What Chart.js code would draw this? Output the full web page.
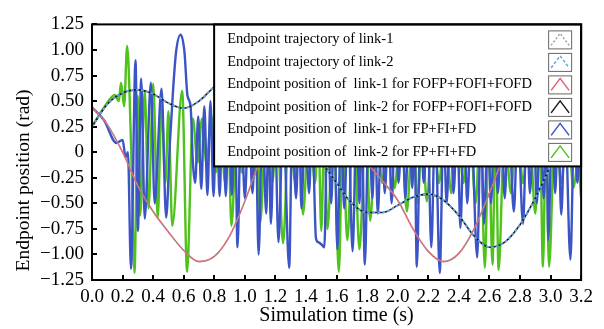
<!DOCTYPE html>
<html>
<head>
<meta charset="utf-8">
<script src="https://cdn.jsdelivr.net/npm/chart.js@4.4.1/dist/chart.umd.min.js"></script>
<style>
  html, body { margin: 0; padding: 0; background: #fff; }
  #wrap { width: 604px; height: 329px; }
</style>
</head>
<body>
<div id="wrap"><canvas id="response-chart" width="604" height="329"></canvas></div>
<script>
// sample times (s) for the reference trajectories
const trajTime = [0, 0.1, 0.2, 0.3, 0.4, 0.5, 0.6, 0.7, 0.8, 0.9, 1.0, 1.1, 1.2, 1.3, 1.4, 1.5, 1.6,
                  1.7, 1.8, 1.9, 2.0, 2.1, 2.2, 2.3, 2.4, 2.5, 2.6, 2.7, 2.8, 2.9, 3.0, 3.1, 3.2];

// endpoint trajectories (rad)
const link1Trajectory = [0.44, 0.27, 0.0, -0.33, -0.58, -0.78, -0.96, -1.07, -1.02, -0.82, -0.48, -0.08, 0.2,
                         0.38, 0.45, 0.43, 0.32, 0.15, -0.1, -0.28, -0.47, -0.75, -0.97, -1.07, -0.99, -0.75,
                         -0.4, -0.02, 0.25, 0.4, 0.45, 0.42, 0.33];
const link2Trajectory = [0.25, 0.47, 0.58, 0.61, 0.57, 0.48, 0.43, 0.5, 0.64, 0.75, 0.8, 0.78, 0.65, 0.45,
                         0.2, -0.08, -0.3, -0.5, -0.59, -0.59, -0.52, -0.44, -0.41, -0.47, -0.62, -0.82,
                         -0.93, -0.88, -0.71, -0.45, -0.13, 0.2, 0.45];

// FOFP+FOFI+FOFD response follows the trajectories
const link1Fofpid = link1Trajectory.slice();
const link2Fofpid = link2Trajectory.slice();

// FP+FI+FD response, [time, position]
const link1Fpid = [
  [0, 0.44], [0.08, 0.31], [0.16, 0.09], [0.2, 0.12], [0.22, -0.05], [0.235, 0.0], [0.255, -1.14],
  [0.285, 0.9], [0.3, -0.77], [0.322, 0.72], [0.345, -0.65], [0.385, 0.68], [0.41, -0.5], [0.455, 0.62],
  [0.485, -0.64], [0.51, 0.1], [0.53, 0.6], [0.55, 0.98], [0.58, 1.15], [0.605, 0.98], [0.625, 0.55],
  [0.645, 0.45], [0.66, -0.1], [0.675, -0.3], [0.695, 0.35], [0.715, -0.36], [0.735, 0.45], [0.755, -0.42],
  [0.775, 0.5], [0.795, -0.43], [0.815, 0.45], [0.835, -0.43], [0.855, 0.5], [0.875, -0.43], [0.895, 0.45],
  [0.915, -0.42], [0.935, 0.4], [0.952, -0.93], [0.975, 0.4], [1.0, -0.45], [1.025, 0.35], [1.05, -0.4],
  [1.07, 0.3], [1.09, -1.0], [1.115, 0.35], [1.14, -0.6], [1.155, 0.3], [1.17, -0.7], [1.195, 0.4],
  [1.22, -0.88], [1.25, 0.35], [1.29, -1.13], [1.31, 0.3], [1.335, -0.45], [1.355, 0.3], [1.37, -0.55],
  [1.395, 0.35], [1.42, -0.4], [1.44, 0.3], [1.465, -0.84], [1.48, -0.88], [1.5, -0.9], [1.52, -0.93],
  [1.54, 0.3], [1.565, -0.5], [1.585, 0.35], [1.605, -0.95], [1.63, 0.3], [1.65, -0.55], [1.675, 0.35],
  [1.705, -0.97], [1.73, 0.3], [1.75, -0.5], [1.765, 0.3], [1.785, -1.1], [1.81, 0.35], [1.835, -0.45],
  [1.85, 0.3], [1.87, -0.6], [1.895, 0.35], [1.915, -0.4], [1.94, 0.3], [1.96, -0.5], [1.985, 0.35],
  [2.005, -0.3], [2.03, 0.3], [2.05, -0.45], [2.075, 0.35], [2.095, -0.35], [2.11, 0.2], [2.125, -1.12],
  [2.15, 0.35], [2.17, -0.3], [2.195, 0.3], [2.22, -0.93], [2.245, 0.35], [2.275, -1.18], [2.3, 0.3],
  [2.32, -0.5], [2.345, 0.35], [2.365, -0.4], [2.39, 0.3], [2.41, -0.74], [2.435, 0.35], [2.455, -0.5],
  [2.48, 0.3], [2.52, -1.03], [2.545, 0.35], [2.565, -0.7], [2.59, 0.3], [2.61, -0.5], [2.635, 0.35],
  [2.655, -0.4], [2.68, 0.3], [2.7, -0.45], [2.725, 0.35], [2.76, -0.58], [2.785, 0.3], [2.82, -0.7],
  [2.845, 0.35], [2.865, -0.4], [2.89, 0.3], [2.91, -0.5], [2.935, 0.35], [2.955, -0.45], [2.975, 0.2],
  [2.985, -0.86], [3.01, 0.35], [3.03, -0.4], [3.05, 0.3], [3.07, -0.61], [3.095, 0.35], [3.13, -1.05],
  [3.155, 0.3], [3.175, -0.3], [3.2, 0.3]
];
const link2Fpid = [
  [0, 0.25], [0.08, 0.44], [0.15, 0.56], [0.175, 0.5], [0.19, 0.68], [0.21, 0.45], [0.23, 1.04],
  [0.255, 0.1], [0.278, -1.18], [0.3, 0.55], [0.315, -0.62], [0.345, 0.6], [0.37, -0.55], [0.4, 0.67],
  [0.43, -0.64], [0.455, 0.45], [0.48, -0.3], [0.5, 0.4], [0.525, -0.72], [0.59, 0.6], [0.622, -1.17],
  [0.66, 0.33], [0.69, -0.1], [0.72, 0.33], [0.75, -0.12], [0.78, 0.36], [0.81, -0.2], [0.84, 0.4],
  [0.87, -0.3], [0.89, 0.3], [0.912, -0.72], [0.95, 0.3], [0.98, -0.2], [1.02, 0.3], [1.06, -0.25],
  [1.08, 0.3], [1.1, -0.69], [1.14, 0.3], [1.18, -0.3], [1.21, 0.3], [1.25, -0.89], [1.29, 0.3],
  [1.33, -0.3], [1.355, 0.3], [1.38, -0.61], [1.42, 0.3], [1.46, -0.3], [1.48, 0.3], [1.5, -0.77],
  [1.52, 0.2], [1.54, -0.75], [1.58, 0.3], [1.615, -1.17], [1.64, 0.2], [1.67, -0.86], [1.71, 0.3],
  [1.75, -0.95], [1.79, 0.3], [1.82, -0.67], [1.86, 0.3], [1.9, -0.3], [1.94, 0.3], [1.98, -0.35],
  [2.02, 0.3], [2.06, -0.58], [2.1, 0.3], [2.13, -0.5], [2.16, 0.2], [2.19, -0.48], [2.23, 0.3],
  [2.27, -0.3], [2.31, 0.3], [2.35, -0.4], [2.39, 0.3], [2.43, -0.3], [2.47, 0.3], [2.51, -0.5],
  [2.54, 0.3], [2.57, -1.13], [2.595, 0.2], [2.62, -1.1], [2.64, 0.3], [2.66, -1.15], [2.7, 0.3],
  [2.74, -0.4], [2.78, 0.3], [2.82, -0.3], [2.86, 0.3], [2.9, -0.6], [2.93, 0.3], [2.95, -1.12],
  [2.97, 0.2], [2.99, -1.12], [3.03, 0.3], [3.07, -0.3], [3.11, 0.3], [3.15, -0.35], [3.18, -0.1],
  [3.2, -0.45]
];

const seriesLabels = [
  'Endpoint trajectory of link-1',
  'Endpoint trajectory of link-2',
  'Endpoint position of  link-1 for FOFP+FOFI+FOFD',
  'Endpoint position of  link-2 for FOFP+FOFI+FOFD',
  'Endpoint position of  link-1 for FP+FI+FD',
  'Endpoint position of  link-2 for FP+FI+FD'
];
const yAxisLabel = 'Endpoint position (rad)';

const serif = '"Liberation Serif", "Times New Roman", serif';

function timed(values) {
  return values.map((v, i) => ({ x: trajTime[i], y: v }));
}
function pairs(list) {
  return list.map(p => ({ x: p[0], y: p[1] }));
}

// boxed legend in the upper right corner of the plot
const legendBox = {
  id: 'legendBox',
  afterDatasetsDraw(chart) {
    const ctx = chart.ctx;
    const area = chart.chartArea;
    const w = 367, h = 142;
    const x0 = area.right - w, y0 = area.top;
    ctx.save();
    ctx.fillStyle = '#fff';
    ctx.fillRect(x0, y0, w, h);
    ctx.font = '14.5px ' + serif;
    ctx.textBaseline = 'middle';
    chart.data.datasets.forEach((ds, i) => {
      const cy = y0 + 15 + i * 22.5;
      ctx.fillStyle = '#000';
      ctx.fillText(ds.label, x0 + 13, cy);
      const ix = area.right - 33, iw = 23, ih = 18;
      ctx.lineWidth = 1;
      ctx.strokeStyle = '#666';
      ctx.setLineDash([]);
      ctx.strokeRect(ix + 0.5, cy - ih / 2 + 0.5, iw, ih);
      ctx.beginPath();
      ctx.moveTo(ix + 3, cy + 6);
      ctx.lineTo(ix + iw / 2 + 0.5, cy - 6);
      ctx.lineTo(ix + iw - 2, cy + 6);
      ctx.strokeStyle = ds.legendColor || ds.borderColor;
      ctx.lineWidth = 1.5;
      ctx.setLineDash(ds.borderDash || []);
      ctx.stroke();
    });
    ctx.setLineDash([]);
    ctx.lineWidth = 2;
    ctx.strokeStyle = '#000';
    ctx.strokeRect(x0, y0, w, h);
    ctx.restore();
  }
};

// closed frame around the plot area, plus the rotated y axis title
const plotFrame = {
  id: 'plotFrame',
  afterDraw(chart) {
    const { ctx, chartArea: a } = chart;
    ctx.save();
    ctx.lineWidth = 2;
    ctx.strokeStyle = '#000';
    ctx.strokeRect(a.left, a.top, a.right - a.left, a.bottom - a.top);

    ctx.translate(24, a.top + 156);
    ctx.rotate(-Math.PI / 2);
    ctx.font = '19.5px ' + serif;
    ctx.fillStyle = '#000';
    ctx.textAlign = 'center';
    ctx.textBaseline = 'middle';
    ctx.fillText(yAxisLabel, 0, 0);
    ctx.restore();
  }
};

const ctx = document.getElementById('response-chart').getContext('2d');

new Chart(ctx, {
  type: 'line',
  data: {
    datasets: [
      { label: seriesLabels[0], data: timed(link1Trajectory), borderColor: '#9a9a9a', borderWidth: 1.2,
        borderDash: [2, 2], legendColor: '#a0a0a0' },
      { label: seriesLabels[1], data: timed(link2Trajectory), borderColor: '#62a3e3', borderWidth: 2,
        borderDash: [3, 2] },
      { label: seriesLabels[2], data: timed(link1Fofpid), borderColor: '#e06272', borderWidth: 1.6 },
      { label: seriesLabels[3], data: timed(link2Fofpid), borderColor: '#1a1a1a', borderWidth: 1.6 },
      { label: seriesLabels[4], data: pairs(link1Fpid), borderColor: '#3c55c6', borderWidth: 2.4 },
      { label: seriesLabels[5], data: pairs(link2Fpid), borderColor: '#4fc21c', borderWidth: 2.4 }
    ]
  },
  options: {
    responsive: false,
    animation: false,
    layout: { padding: { left: 0, right: 22, top: 16, bottom: 0 } },
    elements: {
      point: { radius: 0 },
      line: { cubicInterpolationMode: 'monotone', fill: false }
    },
    plugins: {
      legend: { display: false },
      tooltip: { enabled: false }
    },
    scales: {
      x: {
        type: 'linear',
        min: 0,
        max: 3.2,
        grid: { drawOnChartArea: false, color: '#000', lineWidth: 2, tickLength: -5 },
        border: { display: false },
        ticks: {
          stepSize: 0.2,
          autoSkip: false,
          maxRotation: 0,
          padding: 11,
          color: '#000',
          font: { family: serif, size: 19 },
          callback: v => v.toFixed(1)
        },
        title: {
          display: true,
          text: 'Simulation time (s)',
          color: '#000',
          font: { family: serif, size: 20 },
          padding: { top: 0, bottom: 1 }
        },
        afterFit: s => { s.height = 49; }
      },
      y: {
        min: -1.25,
        max: 1.25,
        grid: { drawOnChartArea: false, color: '#000', lineWidth: 2, tickLength: -5 },
        border: { display: false },
        ticks: {
          stepSize: 0.25,
          autoSkip: false,
          padding: 13,
          color: '#000',
          font: { family: serif, size: 19 },
          callback: v => Math.abs(v) < 1e-9 ? '0' : (v < 0 ? '\u2212' : '') + Math.abs(v).toFixed(2)
        },
        afterFit: s => { s.width = 92; }
      }
    }
  },
  plugins: [legendBox, plotFrame]
});
</script>
</body>
</html>
